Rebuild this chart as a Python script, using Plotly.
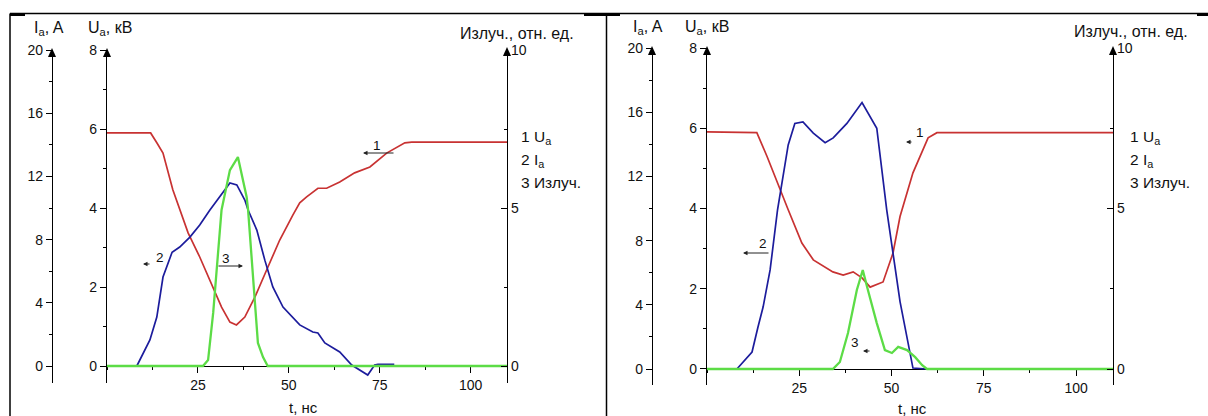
import plotly.graph_objects as go

# ---------------- data ----------------
# Left panel
t_u1 = [0, 12, 13.7, 15.4, 18.1, 20, 22.3, 25.5, 29.2, 31.5, 33.8, 35.6, 37.9, 40.7, 43.9,
        47.5, 51.1, 53, 54.9, 58, 60.4, 64, 68.1, 72.3, 76.9, 81.9, 83.8, 110]
u1 = [5.9, 5.9, 5.65, 5.39, 4.46, 3.95, 3.37, 2.76, 2.0, 1.49, 1.11, 1.04, 1.24, 1.75, 2.43,
      3.19, 3.82, 4.13, 4.28, 4.5, 4.5, 4.66, 4.89, 5.04, 5.39, 5.65, 5.67, 5.67]

t_i1 = [8.2, 11.8, 13.7, 15.4, 17.9, 20, 22.8, 25.5, 28.3, 33.8, 35.7, 37.9, 38.8, 41.2, 43.4,
        45.6, 48.4, 53, 56.6, 58, 59.9, 64, 67.3, 71.7, 73.6, 74.5, 79]
i1 = [0, 1.65, 3.1, 5.63, 7.2, 7.53, 8.16, 8.92, 9.87, 11.58, 11.46, 10.5, 9.87, 8.6, 6.7,
      5.0, 3.73, 2.6, 2.15, 2.09, 1.46, 0.89, 0.06, -0.57, 0.06, 0.1, 0.1]

t_r1 = [0, 26.4, 27.8, 29.2, 31.5, 33.8, 36, 38.4, 38.8, 40.1, 41.5, 42.9, 44.2, 110]
r1 = [0, 0, 0.19, 1.68, 4.94, 6.2, 6.61, 5.35, 4.94, 2.82, 0.73, 0.28, 0, 0]

# Right panel
t_u2 = [0, 13.5, 16.3, 19.8, 22, 25.7, 28.8, 34.1, 36.9, 39.6, 42, 44.2, 47.7, 50.4, 52.3,
        55.8, 59.9, 62.3, 110]
u2 = [5.91, 5.89, 5.29, 4.46, 3.97, 3.14, 2.72, 2.42, 2.34, 2.42, 2.27, 2.04, 2.17, 2.89, 3.8,
      4.89, 5.76, 5.89, 5.89]

t_i2 = [8.1, 12.2, 13.8, 15.2, 17.1, 19.1, 22, 23.8, 26, 28.8, 32, 34.2, 37.9, 42, 46, 48.7,
        52.3, 53.7, 55.8, 59.6]
i2 = [0, 1.06, 2.6, 3.86, 6.17, 9.9, 13.96, 15.3, 15.4, 14.7, 14.1, 14.4, 15.3, 16.6, 15.0, 9.9,
      4.2, 2.6, 0.06, 0]

t_r2 = [0, 34.1, 36, 38.2, 40.6, 42.2, 43.6, 46, 48.2, 50.1, 51.8, 54.2, 56.4, 58.3, 59.6, 110]
r2 = [0, 0, 0.22, 1.12, 2.46, 3.08, 2.46, 1.43, 0.59, 0.5, 0.69, 0.59, 0.37, 0.12, 0, 0]

x_ticks = [25, 50, 75, 100]
lbl_ia = "I<sub>a</sub>, A"
lbl_ua = "U<sub>a</sub>, кВ"
lbl_rad = "Излуч., отн. ед."
lbl_t = "t, нс"
legend_lines = ["1 U<sub>a</sub>", "2 I<sub>a</sub>", "3 Излуч."]

# ---------------- styling / layout helpers ----------------
W, H = 1208, 416
RED, BLUE, GREEN = "#c83232", "#1c1c9c", "#5cdc46"
FONT = "Liberation Sans, Arial, sans-serif"
TF = dict(family=FONT, size=14, color="#111")


def fx(px):
    return px / W


def fy(py):
    return 1 - py / H


fig = go.Figure()

# Left panel traces
fig.add_trace(go.Scatter(x=t_u1, y=u1, mode="lines", line=dict(color=RED, width=1.7), xaxis="x", yaxis="y"))
fig.add_trace(go.Scatter(x=t_i1, y=i1, mode="lines", line=dict(color=BLUE, width=1.7), xaxis="x", yaxis="y2"))
fig.add_trace(go.Scatter(x=t_r1, y=r1, mode="lines", line=dict(color=GREEN, width=2.3), xaxis="x", yaxis="y3"))
# Right panel traces
fig.add_trace(go.Scatter(x=t_u2, y=u2, mode="lines", line=dict(color=RED, width=1.7), xaxis="x2", yaxis="y4"))
fig.add_trace(go.Scatter(x=t_r2, y=r2, mode="lines", line=dict(color=GREEN, width=2.3), xaxis="x2", yaxis="y6"))
fig.add_trace(go.Scatter(x=t_i2, y=i2, mode="lines", line=dict(color=BLUE, width=1.7), xaxis="x2", yaxis="y5"))


def xax(x0, x1, ypos):
    return dict(domain=[fx(x0), fx(x1)], range=[0, 110], anchor="free", position=fy(ypos),
                showline=True, linecolor="black", linewidth=1.3, layer="below traces",
                tickmode="array", tickvals=x_ticks, ticks="outside", ticklen=6, tickcolor="black",
                minor=dict(tickmode="linear", tick0=0, dtick=12.5, ticks="outside", ticklen=3, tickcolor="black"),
                showgrid=False, zeroline=False, tickfont=TF, automargin=False)


def yax(rng, dtick, mdt, side="left", anchor=None, pos=None, overlay=None, dom=None, ticks="outside"):
    d = dict(range=rng, tickmode="linear", tick0=0, dtick=dtick, ticks=ticks, ticklen=6,
             tickcolor="black", showline=True, linecolor="black", linewidth=1.2,
             minor=dict(tickmode="linear", tick0=0, dtick=mdt, ticks=ticks, ticklen=3, tickcolor="black"),
             showgrid=False, zeroline=False, tickfont=TF, side=side, automargin=False)
    if dom is not None:
        d["domain"] = dom
    if overlay:
        d["overlaying"] = overlay
    if anchor == "free":
        d["anchor"] = "free"
        d["position"] = pos
    else:
        d["anchor"] = anchor
    return d


fig.update_layout(
    xaxis=xax(107, 507, 366),
    yaxis=yax([-17 / 39.5, 8], 2, 1, anchor="x", dom=[fy(383), fy(50)]),
    yaxis2=yax([-17 / 15.8, 20], 4, 2, anchor="free", pos=fx(52), overlay="y"),
    yaxis3=yax([-17 / 31.6, 10], 5, 2.5, side="right", anchor="x", overlay="y", ticks="inside"),
    xaxis2=xax(707, 1113, 369),
    yaxis4=yax([-16 / 40.1, 8], 2, 1, anchor="x2", dom=[fy(385), fy(48)]),
    yaxis5=yax([-16 / 16.05, 20], 4, 2, anchor="free", pos=fx(652), overlay="y4"),
    yaxis6=yax([-16 / 32.1, 10], 5, 2.5, side="right", anchor="x2", overlay="y4", ticks="inside"),
)

shapes = []
# axis arrowheads (pixel positions)
for (ax_x, tip) in [(52, 48), (107, 48), (507, 47), (652, 46), (707, 46), (1113, 46)]:
    shapes.append(dict(type="path", xref="paper", yref="paper",
                       path=f"M {fx(ax_x)} {fy(tip)} L {fx(ax_x - 4)} {fy(tip + 9)} L {fx(ax_x + 4)} {fy(tip + 9)} Z",
                       fillcolor="black", line=dict(width=0)))
# frame
shapes.append(dict(type="line", xref="paper", yref="paper", x0=fx(10), x1=1, y0=fy(13.5), y1=fy(13.5),
                   line=dict(color="black", width=1.5)))
for vx in [10, 606.5]:
    shapes.append(dict(type="line", xref="paper", yref="paper", x0=fx(vx), x1=fx(vx), y0=fy(13.5), y1=0,
                       line=dict(color="black", width=1.5)))
for (a, b) in [(10, 25), (584, 620), (1197, 1208)]:
    shapes.append(dict(type="rect", xref="paper", yref="paper", x0=fx(a), x1=fx(b), y0=fy(16), y1=fy(13),
                       fillcolor="black", line=dict(width=0)))

ann = []


def text(px, py, s, xanchor="center", size=16):
    ann.append(dict(xref="paper", yref="paper", x=fx(px), y=fy(py), text=s, showarrow=False,
                    xanchor=xanchor, yanchor="middle", font=dict(family=FONT, size=size, color="#111")))


def arrow(hx, hy, tx, ty):
    ann.append(dict(xref="paper", yref="paper", x=fx(hx), y=fy(hy), text="", showarrow=True,
                    axref="pixel", ayref="pixel", ax=tx - hx, ay=ty - hy, arrowhead=2, arrowsize=0.9,
                    arrowwidth=1, arrowcolor="#222"))


# left panel labels
text(49, 29, lbl_ia)
text(110, 29, lbl_ua)
text(517, 33, lbl_rad)
text(303, 407, lbl_t, size=15)
for k, yy in enumerate([137, 160, 182]):
    text(519, yy, legend_lines[k], xanchor="left", size=15.5)
# right panel labels
text(648, 28, lbl_ia)
text(707, 28, lbl_ua)
text(1131, 32, lbl_rad)
text(913, 408, lbl_t, size=15)
for k, yy in enumerate([137, 160, 182]):
    text(1128, yy, legend_lines[k], xanchor="left", size=15.5)

# curve number pointers
text(377, 145, "1", size=13.5)
arrow(363, 153, 395, 153)
text(160, 257, "2", size=13.5)
arrow(143, 264, 151, 264)
text(226, 258, "3", size=13.5)
arrow(243, 266, 217, 266)

text(920, 132, "1", size=13.5)
arrow(906, 142, 913, 142)
text(763, 243, "2", size=13.5)
arrow(743, 253, 770, 253)
text(855, 342, "3", size=13.5)
arrow(863, 351, 871, 351)

fig.update_layout(shapes=shapes, annotations=ann, width=W, height=H, autosize=False,
                  margin=dict(l=0, r=0, t=0, b=0, pad=0, autoexpand=False), showlegend=False,
                  paper_bgcolor="white", plot_bgcolor="white", font=dict(family=FONT))

fig.write_html("out.html")
